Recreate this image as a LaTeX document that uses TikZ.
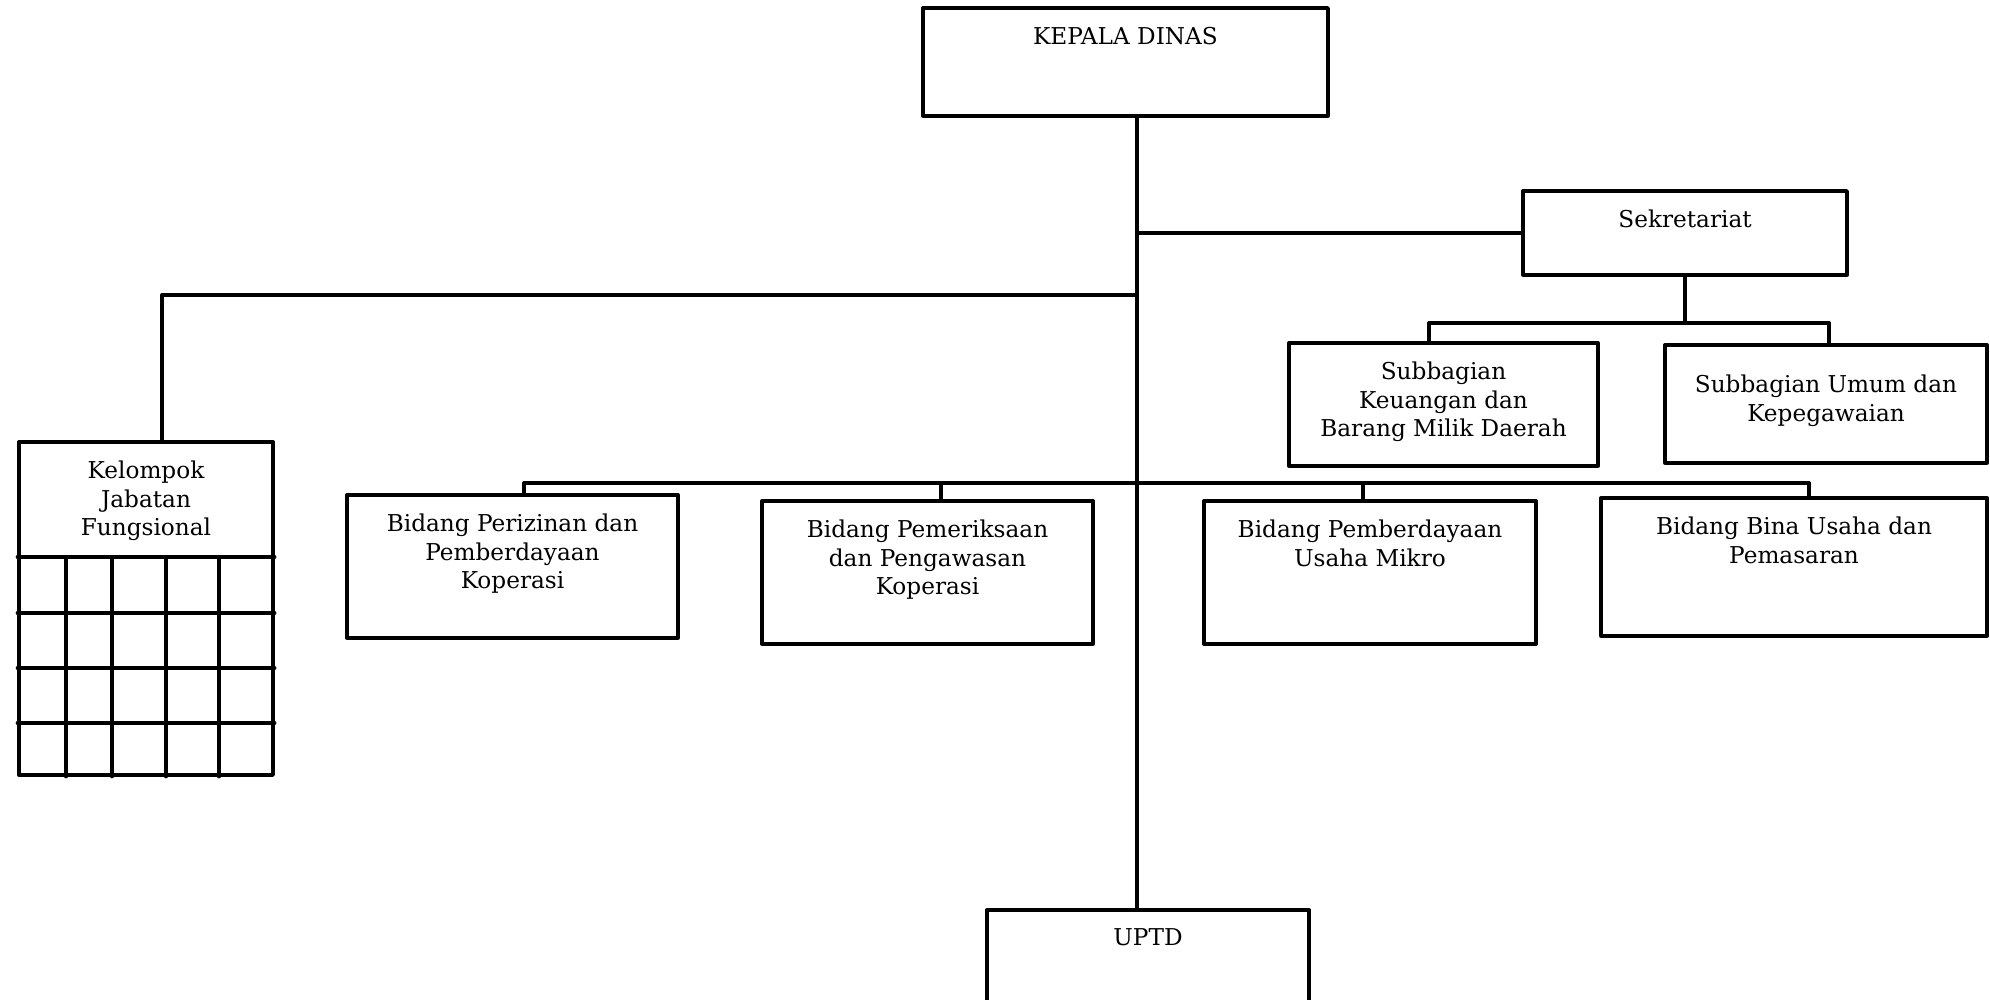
\documentclass[tikz,border=0pt]{standalone}
\usepackage{fontspec}
\setmainfont{DejaVu Serif}
\usetikzlibrary{positioning}
\begin{document}
\begin{tikzpicture}[x=1cm, y=-1cm, line width=0.95pt, line join=round, line cap=round,
  font=\fontsize{6.6}{8.1}\selectfont,
  box/.style={draw, inner sep=0pt},
  txt/.style={inner sep=0pt, align=center}]
\useasboundingbox (0,0) rectangle (19.9,10);
% boxes
\node[box, minimum width=4.05cm, minimum height=1.08cm] (kepala) at (11.255,0.62) {};
\node[box, minimum width=3.24cm, minimum height=0.84cm] (sekr) at (16.85,2.33) {};
\node[box, minimum width=3.09cm, minimum height=1.23cm] (keu) at (14.435,4.045) {};
\node[box, minimum width=3.22cm, minimum height=1.18cm] (umum) at (18.26,4.04) {};
\node[box, minimum width=2.54cm, minimum height=3.33cm] (kelompok) at (1.46,6.085) {};
\node[box, minimum width=3.31cm, minimum height=1.43cm] (perizinan) at (5.125,5.665) {};
\node[box, minimum width=3.31cm, minimum height=1.43cm] (pemeriksaan) at (9.275,5.725) {};
\node[box, minimum width=3.32cm, minimum height=1.43cm] (pemberdayaan) at (13.70,5.725) {};
\node[box, minimum width=3.86cm, minimum height=1.38cm] (bina) at (17.94,5.67) {};
\node[box, minimum width=3.22cm, minimum height=1.10cm] (uptd) at (11.48,9.65) {};
% texts
\node[txt, below=0.19cm of kepala.north] (kepalaT) {KEPALA DINAS};
\node[txt, below=0.19cm of sekr.north] (sekrT) {Sekretariat};
\node[txt, below=0.19cm of keu.north] (keuT) {Subbagian\\Keuangan dan\\Barang Milik Daerah};
\node[txt, below=0.3cm of umum.north] (umumT) {Subbagian Umum dan\\Kepegawaian};
\node[txt, below=0.19cm of kelompok.north] (kelompokT) {Kelompok\\Jabatan\\Fungsional};
\node[txt, below=0.19cm of perizinan.north] (perizinanT) {Bidang Perizinan dan\\Pemberdayaan\\Koperasi};
\node[txt, below=0.19cm of pemeriksaan.north] (pemeriksaanT) {Bidang Pemeriksaan\\dan Pengawasan\\Koperasi};
\node[txt, below=0.19cm of pemberdayaan.north] (pemberdayaanT) {Bidang Pemberdayaan\\Usaha Mikro};
\node[txt, below=0.19cm of bina.north] (binaT) {Bidang Bina Usaha dan\\Pemasaran};
\node[txt, below=0.19cm of uptd.north] (uptdT) {UPTD};
% lines
\coordinate (spine) at (11.37,0);
\draw (kepala.south -| spine) -- (uptd.north -| spine);
\draw (sekr.west -| spine) -- (sekr.west);
\coordinate (kjf) at (1.62,2.95);
\draw (kjf -| spine) -- (kjf) -- (kjf |- kelompok.north);
\coordinate (subL) at (14.29,3.23); \coordinate (subR) at (18.29,3.23);
\draw (sekr.south) -- (sekr.south |- subL);
\draw (keu.north -| subL) -- (subL) -- (subR) -- (umum.north -| subR);
\foreach \n/\x in {perizinan/5.24, pemeriksaan/9.41, pemberdayaan/13.63, bina/18.09}
  {\coordinate (d\n) at (\x,4.83); \draw (d\n) -- (d\n |- \n.north);}
\draw (dperizinan) -- (dbina);
% grid
\foreach \y in {5.57,6.13,6.68,7.23} \draw (kelompok.west |- 0,\y) -- (kelompok.east |- 0,\y);
\foreach \x in {0.66,1.12,1.66,2.19} \draw (\x,5.57) -- (kelompok.south -| \x,0);
\end{tikzpicture}
\end{document}
